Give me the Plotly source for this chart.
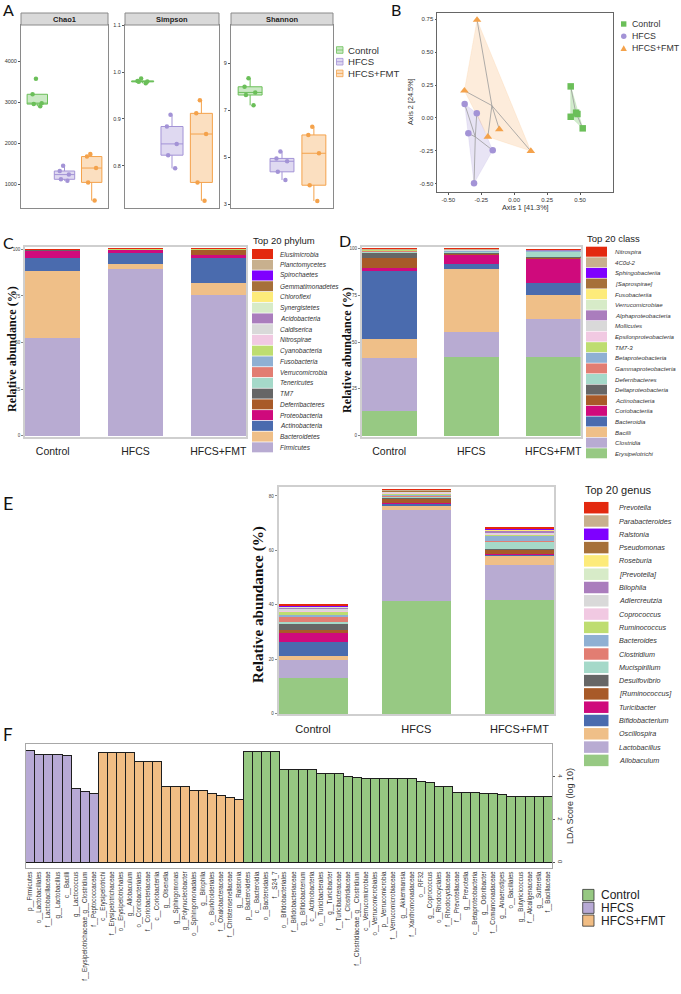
import plotly.graph_objects as go

W, H = 681, 994
FONT = "Liberation Sans, Arial, sans-serif"
SERIF = "Liberation Serif, Times New Roman, serif"
LETTER = "Lato, Open Sans, sans-serif"


def fx(x):
    return x / W


def fy(y):
    return 1 - y / H


groups = ["Control", "HFCS", "HFCS+FMT"]
col_ctrl, col_hfcs, col_fmt = "#6BBF59", "#A393D6", "#F4A24B"
group_cols = [col_ctrl, col_hfcs, col_fmt]
group_fills = ["rgba(107,191,89,0.35)", "rgba(163,147,214,0.35)", "rgba(244,162,75,0.35)"]
hull_fills = ["rgba(107,191,89,0.30)", "rgba(163,147,214,0.25)", "rgba(244,162,75,0.20)"]

# ---------------- Panel A : alpha diversity ----------------
chao1_control = [3570, 3190, 2970, 2950, 2900]
chao1_hfcs = [1446, 1317, 1230, 1115, 1080]
chao1_fmt = [1730, 1670, 1390, 1040, 595]
simpson_control = [0.986, 0.981, 0.980, 0.979, 0.976]
simpson_hfcs = [0.909, 0.884, 0.847, 0.823, 0.795]
simpson_fmt = [0.940, 0.912, 0.868, 0.765, 0.726]
shannon_control = [8.35, 7.99, 7.75, 7.64, 7.20]
shannon_hfcs = [5.23, 4.94, 4.82, 4.37, 4.02]
shannon_fmt = [6.29, 5.94, 5.16, 3.80, 3.13]
alpha_names = ["Chao1", "Simpson", "Shannon"]
chao1_ticks = [1000, 2000, 3000, 4000]
simpson_ticks = [0.8, 0.9, 1.0, 1.1]
shannon_ticks = [3, 5, 7, 9]

# ---------------- Panel B : PCoA ----------------
pcoa_ctrl_x = [0.429, 0.429, 0.470, 0.480, 0.520]
pcoa_ctrl_y = [0.240, 0.009, 0.040, 0.030, -0.079]
pcoa_hfcs_x = [-0.376, -0.284, -0.348, -0.163, -0.305]
pcoa_hfcs_y = [0.106, 0.035, -0.117, -0.246, -0.497]
pcoa_fmt_x = [-0.282, -0.378, -0.113, -0.200, 0.126]
pcoa_fmt_y = [0.745, 0.207, -0.086, -0.143, -0.252]
pcoa_ticks = [-0.5, -0.25, 0.0, 0.25, 0.5, 0.75]

# ---------------- Panel C : phylum ----------------
phyla = ["Elusimicrobia", "Planctomycetes", "Spirochaetes", "Gemmatimonadetes", "Chloroflexi",
         "Synergistetes", "Acidobacteria", "Caldiserica", "Nitrospirae", "Cyanobacteria",
         "Fusobacteria", "Verrucomicrobia", "Tenericutes", "TM7", "Deferribacteres",
         "Proteobacteria", "Actinobacteria", "Bacteroidetes", "Firmicutes"]
phylum_control = [0.01, 0.01, 0.01, 0.01, 0.01, 0.01, 0.01, 0.01, 0.01, 0.02,
                  0.02, 0.08, 0.15, 0.10, 0.30, 3.8, 7.1, 36.0, 52.2]
phylum_hfcs = [0.01, 0.01, 0.01, 0.01, 0.01, 0.01, 0.01, 0.01, 0.01, 0.02,
               0.02, 0.05, 0.10, 0.05, 0.30, 1.6, 5.8, 2.7, 89.4]
phylum_fmt = [0.01, 0.01, 0.01, 0.01, 0.01, 0.01, 0.01, 0.01, 0.01, 0.02,
              0.02, 0.05, 0.10, 0.05, 2.80, 1.8, 13.4, 6.3, 75.5]

# ---------------- Panel D : class ----------------
classes = ["Nitrospira", "4C0d-2", "Sphingobacteriia", "[Saprospirae]", "Fusobacteriia",
           "Verrucomicrobiae", "Alphaproteobacteria", "Mollicutes", "Epsilonproteobacteria", "TM7-3",
           "Betaproteobacteria", "Gammaproteobacteria", "Deferribacteres", "Deltaproteobacteria",
           "Actinobacteria", "Coriobacteriia", "Bacteroidia", "Bacilli", "Clostridia", "Erysipelotrichi"]
class_control = [0.01, 0.02, 0.01, 0.01, 0.02, 0.08, 0.05, 0.15, 0.20, 0.10,
                 0.30, 0.40, 0.50, 3.0, 5.0, 1.8, 36.3, 10.3, 28.0, 13.3]
class_hfcs = [0.01, 0.20, 0.01, 0.20, 0.01, 0.05, 0.10, 0.15, 0.20, 0.05,
              0.20, 0.30, 0.30, 0.50, 0.9, 4.8, 2.6, 33.5, 13.7, 41.8]
class_fmt = [0.01, 0.20, 0.01, 0.10, 0.01, 0.10, 0.10, 0.30, 0.10, 0.05,
             0.20, 0.20, 2.80, 0.30, 0.7, 13.0, 6.2, 13.0, 19.9, 42.2]

# ---------------- Panel E : genus ----------------
genera = ["Prevotella", "Parabacteroides", "Ralstonia", "Pseudomonas", "Roseburia", "[Prevotella]",
          "Bilophila", "Adlercreutzia", "Coprococcus", "Ruminococcus", "Bacteroides", "Clostridium",
          "Mucispirillum", "Desulfovibrio", "[Ruminococcus]", "Turicibacter", "Bifidobacterium",
          "Oscillospira", "Lactobacillus", "Allobaculum"]
genus_control = [0.3, 0.2, 0.1, 0.1, 0.1, 0.4, 0.2, 0.6, 1.0, 0.9,
                 0.4, 2.1, 0.6, 2.4, 0.7, 3.6, 5.2, 1.6, 6.5, 13.2]
genus_hfcs = [0.2, 0.3, 0.05, 0.2, 0.05, 0.1, 0.1, 0.3, 0.3, 0.3,
              0.3, 0.4, 0.5, 0.3, 1.7, 0.2, 0.6, 1.8, 33.4, 41.5]
genus_fmt = [0.2, 0.2, 0.1, 0.2, 0.1, 0.2, 0.6, 0.5, 0.3, 0.3,
             2.3, 0.2, 2.6, 0.2, 1.6, 0.2, 0.5, 3.5, 12.8, 41.8]

palette20 = ["#E3290F", "#C8B08E", "#7F00FF", "#A6703A", "#FDEB7A", "#D7EBC8", "#AA7DBD",
             "#D9D9D9", "#F1C9E2", "#BEDD70", "#8FB0D3", "#E27D72", "#A5D9C9", "#666666",
             "#A85A28", "#CF0A7C", "#4A6BAE", "#EFBF88", "#B8ABD2", "#97C983"]

# ---------------- Panel F : LEfSe ----------------
lefse_hfcs_taxa = ["p__Firmicutes", "o__Lactobacillales", "f__Lactobacillaceae", "g__Lactobacillus",
                   "c__Bacilli", "g__Lactococcus", "f__Erysipelotrichaceae_g__Clostridium",
                   "f__Peptococcaceae"]
lefse_hfcs_lda = [5.24, 5.06, 5.06, 5.06, 5.01, 3.46, 3.30, 3.21]
lefse_fmt_taxa = ["c__Erysipelotrichi", "f__Erysipelotrichaceae", "o__Erysipelotrichales",
                  "g__Allobaculum", "o__Coriobacteriales", "f__Coriobacteriaceae", "c__Coriobacteriia",
                  "g__Olsenella", "g__Sphingomonas", "g__Polynucleobacter", "o__Sphingomonadales",
                  "g__Bilophila", "o__Burkholderiales", "f__Oxalobacteraceae",
                  "f__Christensenellaceae", "g__Ralstonia"]
lefse_fmt_lda = [5.12, 5.12, 5.12, 5.12, 4.73, 4.73, 4.73, 3.53, 3.53, 3.53, 3.38, 3.38,
                 3.23, 3.12, 3.04, 2.95]
lefse_ctrl_taxa = ["p__Bacteroidetes", "c__Bacteroidia", "o__Bacteroidales", "f__S24_7",
                   "o__Bifidobacteriales", "f__Bifidobacteriaceae", "g__Bifidobacterium",
                   "c__Actinobacteria", "o__Turicibacterales", "g__Turicibacter", "f__Turicibacteraceae",
                   "f__Clostridiaceae", "f__Clostridiaceae_g__Clostridium", "c__Verrucomicrobiae",
                   "o__Verrucomicrobiales", "p__Verrucomicrobia", "f__Verrucomicrobiaceae",
                   "g__Akkermansia", "f__Xanthomonadaceae", "o__RF32", "g__Coprococcus",
                   "o__Rhodocyclales", "f__Rhodocyclaceae", "f__Prevotellaceae", "g__Prevotella",
                   "c__Betaproteobacteria", "g__Odoribacter", "f__Comamonadaceae", "g__Anaerostipes",
                   "o__Bacillales", "g__Butyricicoccus", "f__Alcaligenaceae", "g__Sutterella",
                   "f__Bacillaceae"]
lefse_ctrl_lda = [5.16, 5.16, 5.16, 5.16, 4.36, 4.36, 4.36, 4.36, 4.16, 4.16, 4.16, 4.03,
                  3.97, 3.94, 3.93, 3.93, 3.93, 3.92, 3.90, 3.80, 3.74, 3.57, 3.56, 3.28,
                  3.27, 3.26, 3.23, 3.22, 3.18, 3.10, 3.10, 3.08, 3.07, 3.07]
lefse_cols = {"Control": "#96C882", "HFCS": "#B7A9D5", "HFCS+FMT": "#F1BD84"}
lda_ticks = [0, 2, 4]

fig = go.Figure()
layout_axes = {}
shapes = []
annotations = []


def axn(i):
    s = "" if i == 1 else str(i)
    return "x" + s, "y" + s, "xaxis" + s, "yaxis" + s


def rect(x0, y0, x1, y1, fill, line_color=None, lw=0):
    shapes.append(dict(type="rect", xref="paper", yref="paper", x0=fx(x0), x1=fx(x1),
                       y0=fy(y1), y1=fy(y0), fillcolor=fill,
                       line=dict(color=line_color or fill, width=lw), layer="above"))


def hline(x0, x1, y, color, lw=1):
    shapes.append(dict(type="line", xref="paper", yref="paper", x0=fx(x0), x1=fx(x1),
                       y0=fy(y), y1=fy(y), line=dict(color=color, width=lw), layer="above"))


def text(x, y, s, size, color="#222", xanchor="left", yanchor="middle", family=FONT, angle=0):
    annotations.append(dict(xref="paper", yref="paper", x=fx(x), y=fy(y), text=s, showarrow=False,
                            xanchor=xanchor, yanchor=yanchor, textangle=angle,
                            font=dict(size=size, color=color, family=family)))


# ---------- A ----------
alpha_data = [
    [chao1_control, chao1_hfcs, chao1_fmt],
    [simpson_control, simpson_hfcs, simpson_fmt],
    [shannon_control, shannon_hfcs, shannon_fmt],
]
alpha_px = [(21, 108), (125, 219), (231, 333)]
alpha_ranges = [[415, 4880], [0.7106, 1.1], [2.83, 10.62]]
alpha_ticks = [chao1_ticks, simpson_ticks, shannon_ticks]
alpha_fmt = [lambda v: str(int(v)), lambda v: f"{v:.1f}", lambda v: str(int(v))]
for k in range(3):
    xa, ya, xk, yk = axn(k + 1)
    for g, vals, c, f in zip(groups, alpha_data[k], group_cols, group_fills):
        fig.add_trace(go.Box(x=[g] * len(vals), y=vals, xaxis=xa, yaxis=ya, boxpoints="all",
                             jitter=0.55, pointpos=0, width=0.75, quartilemethod="inclusive",
                             whiskerwidth=0, line=dict(color=c, width=1), fillcolor=f,
                             marker=dict(color=c, size=4.5, line=dict(width=0)),
                             showlegend=False, hoverinfo="skip"))
    l, r = alpha_px[k]
    layout_axes[xk] = dict(domain=[fx(l), fx(r)], anchor=ya, type="category",
                           categoryorder="array", categoryarray=groups, range=[-0.6, 2.6],
                           showticklabels=False, ticks="", showline=True, mirror=True,
                           linecolor="#8A8A8A", linewidth=1, showgrid=False, zeroline=False)
    layout_axes[yk] = dict(domain=[fy(208), fy(25)], anchor=xa, range=alpha_ranges[k],
                           tickmode="array", tickvals=alpha_ticks[k],
                           ticktext=[alpha_fmt[k](v) for v in alpha_ticks[k]],
                           ticks="outside", ticklen=2, tickcolor="#555",
                           tickfont=dict(size=5.5, color="#333"), showline=True, mirror=True,
                           linecolor="#8A8A8A", linewidth=1, showgrid=False, zeroline=False)
    rect(l, 13, r, 25, "#D9D9D9", "#8A8A8A", 1)
    text((l + r) / 2, 19.2, "<b>" + alpha_names[k] + "</b>", 7.5, "#222", xanchor="center")

for i, (g, c, f) in enumerate(zip(groups, group_cols, group_fills)):
    yc = 50 + i * 11.7
    rect(336.5, yc - 3.3, 343, yc + 3.3, f, c, 0.8)
    hline(336.5, 343, yc, c, 0.8)
    text(346.5, yc, g, 9.6, "#333")


# ---------- B ----------
def convex_hull(xs, ys):
    pts = sorted(set(zip(xs, ys)))

    def cross(o, a, b):
        return (a[0] - o[0]) * (b[1] - o[1]) - (a[1] - o[1]) * (b[0] - o[0])

    lower, upper = [], []
    for p in pts:
        while len(lower) >= 2 and cross(lower[-2], lower[-1], p) <= 0:
            lower.pop()
        lower.append(p)
    for p in reversed(pts):
        while len(upper) >= 2 and cross(upper[-2], upper[-1], p) <= 0:
            upper.pop()
        upper.append(p)
    h = lower[:-1] + upper[:-1]
    return [p[0] for p in h] + [h[0][0]], [p[1] for p in h] + [h[0][1]]


pcoa = [(pcoa_ctrl_x, pcoa_ctrl_y), (pcoa_hfcs_x, pcoa_hfcs_y), (pcoa_fmt_x, pcoa_fmt_y)]
symbols = ["square", "circle", "triangle-up"]
xa, ya, xk, yk = axn(4)
for (xs, ys), c, hf in zip(pcoa, group_cols, hull_fills):
    hx, hy = convex_hull(xs, ys)
    fig.add_trace(go.Scatter(x=hx, y=hy, mode="lines", fill="toself", fillcolor=hf,
                             line=dict(width=0.6, color=hf), xaxis=xa, yaxis=ya,
                             showlegend=False, hoverinfo="skip"))
for (xs, ys), c in zip(pcoa, group_cols):
    cx, cy = sum(xs) / len(xs), sum(ys) / len(ys)
    lx, ly = [], []
    for x, y in zip(xs, ys):
        lx += [cx, x, None]
        ly += [cy, y, None]
    fig.add_trace(go.Scatter(x=lx, y=ly, mode="lines", line=dict(color="#9A9A9A", width=0.8),
                             xaxis=xa, yaxis=ya, showlegend=False, hoverinfo="skip"))
for (xs, ys), c, s in zip(pcoa, group_cols, symbols):
    fig.add_trace(go.Scatter(x=xs, y=ys, mode="markers",
                             marker=dict(symbol=s, color=c, size=6.5 if s != "triangle-up" else 7.5,
                                         line=dict(width=0)),
                             xaxis=xa, yaxis=ya, showlegend=False, hoverinfo="skip"))
layout_axes[xk] = dict(domain=[fx(437), fx(613)], anchor=ya, range=[-0.586, 0.75],
                       tickmode="array", tickvals=pcoa_ticks[:5],
                       ticktext=[f"{v:.2f}" for v in pcoa_ticks[:5]], ticks="outside", ticklen=1.5,
                       tickcolor="#555", tickfont=dict(size=6, color="#333"), showline=True,
                       mirror=True, linecolor="#666", linewidth=1, showgrid=False, zeroline=False)
layout_axes[yk] = dict(domain=[fy(192), fy(13)], anchor=xa, range=[-0.563, 0.798],
                       tickmode="array", tickvals=pcoa_ticks,
                       ticktext=[f"{v:.2f}" for v in pcoa_ticks], ticks="outside", ticklen=1.5,
                       tickcolor="#555", tickfont=dict(size=6, color="#333"), showline=True,
                       mirror=True, linecolor="#666", linewidth=1, showgrid=False, zeroline=False)
text(525, 207.5, "Axis 1 [41.3%]", 7.3, "#333", xanchor="center")
text(410, 102, "Axis 2 [24.5%]", 7.3, "#333", xanchor="center", angle=-90)

# B legend
for i, (g, c) in enumerate(zip(groups, group_cols)):
    yc = 24 + i * 12.2
    if i == 0:
        rect(621, yc - 2.7, 626.4, yc + 2.7, c)
    elif i == 1:
        shapes.append(dict(type="circle", xref="paper", yref="paper", x0=fx(621), x1=fx(626.5),
                           y0=fy(yc + 2.7), y1=fy(yc - 2.7), fillcolor=c, line=dict(width=0)))
    else:
        shapes.append(dict(type="path", xref="paper", yref="paper",
                           path=f"M {fx(620.5)},{fy(yc + 2.7)} L {fx(626.9)},{fy(yc + 2.7)} "
                                f"L {fx(623.7)},{fy(yc - 3.2)} Z",
                           fillcolor=c, line=dict(width=0)))
    text(629.5, yc, g, 8.8, "#333")


# ---------- C, D, E ----------
def stacked(idx, names, vc, vh, vf, colors, dom_x, dom_y, yrange, tickvals, xfont):
    xa, ya, xk, yk = axn(idx)
    for k in reversed(range(len(names))):
        fig.add_trace(go.Bar(x=groups, y=[vc[k], vh[k], vf[k]], width=0.67,
                             marker=dict(color=colors[k], line=dict(width=0)),
                             xaxis=xa, yaxis=ya, name=names[k], showlegend=False,
                             hoverinfo="skip"))
    layout_axes[xk] = dict(domain=[fx(dom_x[0]), fx(dom_x[1])], anchor=ya, type="category",
                           categoryorder="array", categoryarray=groups, range=[-0.335, 2.335],
                           ticks="outside", ticklen=4, tickcolor="rgba(0,0,0,0)",
                           tickfont=dict(size=xfont, color="#222"), showline=True, mirror=True,
                           linecolor="#CFCFCF", linewidth=1.5, showgrid=False, zeroline=False)
    layout_axes[yk] = dict(domain=[fy(dom_y[1]), fy(dom_y[0])], anchor=xa, range=yrange,
                           tickmode="array", tickvals=tickvals, ticks="outside", ticklen=2,
                           tickcolor="#888", tickfont=dict(size=4.5, color="#444"),
                           showline=True, mirror=True, linecolor="#CFCFCF", linewidth=1.5,
                           showgrid=False, zeroline=False)


def legend_block(title, names, colors, x0, title_y, first_y, step, sw_w, sw_h, tx, fs, tfs):
    text(x0 - 1, title_y, title, tfs, "#222")
    for i, (n, c) in enumerate(zip(names, colors)):
        yc = first_y + i * step
        rect(x0, yc - sw_h / 2, x0 + sw_w, yc + sw_h / 2, c)
        text(tx, yc, "<i>" + n + "</i>", fs, "#333")


stacked(5, phyla, phylum_control, phylum_hfcs, phylum_fmt, palette20[:19], (25, 246),
        (247.3, 436.7), [-0.54, 101.1], [0, 25, 50, 75, 100], 10.5)
legend_block("Top 20 phylum", phyla, palette20[:19], 252, 240, 254, 10.74, 21, 10, 278, 6.5, 9.5)
text(12, 349, "<b>Relative abundance (%)</b>", 12.2, "#111", xanchor="center", family=SERIF, angle=-90)

stacked(6, classes, class_control, class_hfcs, class_fmt, palette20, (361.7, 580.7),
        (247.3, 436.7), [-0.54, 100.6], [0, 25, 50, 75, 100], 10.5)
legend_block("Top 20 class", classes, palette20, 586, 238, 251.7, 10.61, 21, 10, 612.7, 6.1, 9.5)
text(347, 350, "<b>Relative abundance (%)</b>", 12.2, "#111", xanchor="center", family=SERIF, angle=-90)

stacked(7, genera, genus_control, genus_hfcs, genus_fmt, palette20, (278.5, 554),
        (486.7, 714.3), [-0.22, 83.4], [0, 20, 40, 60, 80], 11)
legend_block("Top 20 genus", genera, palette20, 584, 490, 507.7, 13.3, 24.5, 11.5, 616.5, 7.2, 11)
text(258, 605, "<b>Relative abundance (%)</b>", 15.2, "#111", xanchor="center", family=SERIF, angle=-90)

# ---------- F ----------
xa, ya, xk, yk = axn(8)
all_taxa = lefse_hfcs_taxa + lefse_fmt_taxa + lefse_ctrl_taxa
for g, taxa, lda in [("HFCS", lefse_hfcs_taxa, lefse_hfcs_lda),
                     ("HFCS+FMT", lefse_fmt_taxa, lefse_fmt_lda),
                     ("Control", lefse_ctrl_taxa, lefse_ctrl_lda)]:
    fig.add_trace(go.Bar(x=taxa, y=lda, width=1.0,
                         marker=dict(color=lefse_cols[g], line=dict(color="#1E1E1E", width=1)),
                         xaxis=xa, yaxis=ya, showlegend=False, hoverinfo="skip"))
layout_axes[xk] = dict(domain=[fx(25.7), fx(552.3)], anchor=ya, type="category",
                       categoryorder="array", categoryarray=all_taxa, range=[-0.5, len(all_taxa) - 0.5],
                       tickmode="array", tickvals=all_taxa, ticktext=all_taxa, tickangle=-90,
                       ticks="", tickfont=dict(size=6.3, color="#333"), showline=True, mirror=True,
                       linecolor="#A8A8A8", linewidth=1, showgrid=False, zeroline=False)
layout_axes[yk] = dict(domain=[fy(868), fy(744)], anchor=xa, side="right", range=[-0.25, 5.53],
                       tickmode="array", tickvals=lda_ticks, ticks="outside", ticklen=2,
                       tickcolor="#555", tickangle=90, tickfont=dict(size=6, color="#333"),
                       showline=True, mirror=True, linecolor="#A8A8A8", linewidth=1,
                       showgrid=False, zeroline=False)
text(570, 806, "LDA Score (log 10)", 9, "#333", xanchor="center", angle=-90)

for i, g in enumerate(["Control", "HFCS", "HFCS+FMT"]):
    yc = 895 + i * 12.8
    rect(582.7, yc - 5.6, 594, yc + 5.6, lefse_cols[g], "#333", 0.8)
    text(599, yc, g, 12, "#222")

# ---------- panel letters ----------
for lab, x, y, s in [("A", 1, 9, 16), ("B", 389, 9, 16), ("C", 1, 242, 16), ("D", 337, 241, 16),
                     ("E", 1, 503, 18), ("F", 1, 734, 17)]:
    text(x, y, lab, s, "#111", family=LETTER)

fig.update_layout(
    width=W, height=H, margin=dict(l=0, r=0, t=0, b=0), autosize=False,
    template="none", paper_bgcolor="white", plot_bgcolor="white",
    showlegend=False, barmode="stack", boxmode="overlay",
    font=dict(family=FONT, size=10, color="#222"),
    shapes=shapes, annotations=annotations, **layout_axes,
)
fig.write_html("out.html")
